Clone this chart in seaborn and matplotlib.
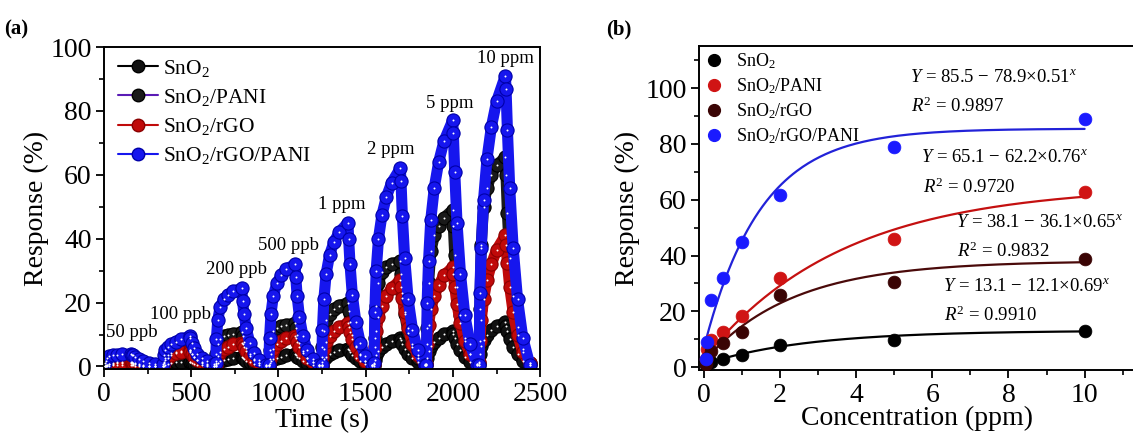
import numpy as np
import pandas as pd
import matplotlib
matplotlib.use("Agg")
import matplotlib.pyplot as plt
import seaborn as sns
from matplotlib.lines import Line2D
from matplotlib.ticker import MultipleLocator

sns.set_theme(style="ticks")
plt.rcParams['font.family'] = ['Liberation Serif', 'DejaVu Serif']
plt.rcParams['mathtext.fontset'] = 'custom'
plt.rcParams['mathtext.rm'] = 'Liberation Serif'
plt.rcParams['mathtext.it'] = 'Liberation Serif:italic'
plt.rcParams['mathtext.bf'] = 'Liberation Serif:bold'
plt.rcParams['axes.edgecolor'] = 'black'
plt.rcParams['xtick.color'] = 'black'
plt.rcParams['ytick.color'] = 'black'
plt.rcParams['text.color'] = 'black'
plt.rcParams['axes.labelcolor'] = 'black'

# ---------------- panel (a): dynamic response ----------------
series_names = ["SnO$_2$", "SnO$_2$/PANI", "SnO$_2$/rGO", "SnO$_2$/rGO/PANI"]
pulse_labels = ["50 ppb", "100 ppb", "200 ppb", "500 ppb", "1 ppm", "2 ppm", "5 ppm", "10 ppm"]
pulse_start_s = [5, 340, 640, 945, 1248, 1548, 1848, 2150]
phase_s = [0, 4, 12, 25, 45, 70, 100, 150, 154, 162, 175, 195, 220, 250, 290]

resp_sno2 = [
    [0.0, 0.1, 0.2, 0.3, 0.4, 0.5, 0.5, 0.5, 0.5, 0.4, 0.3, 0.2, 0.1, 0.1, 0.0],
    [0.1, 0.3, 0.6, 0.9, 1.1, 1.3, 1.4, 1.5, 1.4, 1.2, 0.9, 0.6, 0.4, 0.2, 0.1],
    [0.2, 0.7, 1.2, 1.6, 2.0, 2.3, 2.6, 2.9, 2.7, 2.3, 1.8, 1.3, 0.8, 0.4, 0.2],
    [0.2, 1.0, 1.7, 2.2, 2.7, 3.1, 3.5, 3.9, 3.6, 3.1, 2.5, 1.8, 1.1, 0.6, 0.2],
    [0.3, 1.3, 2.3, 3.1, 3.8, 4.5, 5.1, 5.6, 5.2, 4.5, 3.6, 2.6, 1.6, 0.8, 0.3],
    [0.3, 2.0, 3.6, 4.9, 6.1, 7.1, 8.0, 8.8, 8.2, 7.1, 5.6, 4.0, 2.5, 1.3, 0.4],
    [0.4, 2.8, 4.8, 6.3, 7.7, 9.0, 10.1, 11.0, 10.2, 8.8, 7.0, 5.0, 3.0, 1.5, 0.4],
    [0.5, 4.0, 6.5, 8.3, 10.0, 11.4, 12.6, 13.8, 12.8, 11.0, 8.7, 6.2, 3.8, 1.8, 0.5],
]
resp_sno2_pani = [
    [0.2, 0.4, 0.6, 0.8, 0.9, 1.0, 1.0, 1.1, 1.0, 0.9, 0.7, 0.5, 0.3, 0.2, 0.1],
    [0.3, 1.5, 2.8, 3.6, 4.2, 4.6, 4.9, 5.2, 4.8, 4.0, 3.0, 2.0, 1.2, 0.6, 0.2],
    [0.5, 4.0, 7.0, 8.6, 9.4, 9.9, 10.3, 10.7, 9.5, 7.8, 5.8, 3.8, 2.2, 1.0, 0.3],
    [0.5, 5.0, 9.0, 11.0, 12.0, 12.6, 13.1, 13.6, 12.0, 9.8, 7.2, 4.8, 2.8, 1.3, 0.4],
    [0.5, 6.0, 11.0, 14.5, 16.5, 18.0, 19.0, 20.0, 17.5, 14.0, 10.0, 6.5, 3.8, 1.8, 0.5],
    [0.8, 9.0, 19.0, 26.0, 29.5, 31.0, 32.0, 33.0, 29.0, 23.0, 16.5, 10.5, 6.0, 2.8, 0.6],
    [0.8, 12.0, 26.0, 36.0, 41.0, 44.0, 46.5, 49.0, 44.0, 35.0, 25.0, 16.0, 9.0, 4.0, 0.8],
    [1.0, 18.0, 38.0, 50.0, 56.0, 60.0, 63.0, 65.5, 60.0, 48.0, 34.0, 22.0, 12.5, 5.5, 1.0],
]
resp_sno2_rgo = [
    [0.0, 0.2, 0.5, 0.8, 1.1, 1.3, 1.4, 1.5, 1.4, 1.2, 1.0, 0.7, 0.4, 0.2, 0.1],
    [0.2, 1.0, 2.0, 2.8, 3.5, 4.1, 4.6, 5.0, 4.6, 3.9, 3.0, 2.1, 1.3, 0.7, 0.3],
    [0.3, 1.8, 3.2, 4.4, 5.4, 6.2, 6.9, 7.5, 6.9, 6.0, 4.7, 3.3, 2.0, 1.0, 0.4],
    [0.4, 2.2, 4.0, 5.6, 6.9, 7.9, 8.8, 9.5, 8.8, 7.6, 6.0, 4.2, 2.6, 1.3, 0.4],
    [0.5, 3.0, 5.5, 7.7, 9.5, 11.0, 12.3, 13.5, 12.5, 10.8, 8.5, 6.0, 3.6, 1.8, 0.5],
    [0.8, 6.0, 11.0, 15.5, 19.0, 22.0, 24.5, 27.0, 25.0, 21.5, 17.0, 12.0, 7.0, 3.5, 0.8],
    [0.8, 7.0, 13.0, 18.0, 22.0, 25.5, 28.5, 31.0, 29.0, 25.0, 19.5, 13.5, 8.0, 4.0, 0.8],
    [1.5, 8.0, 14.5, 21.0, 27.0, 32.0, 36.5, 41.0, 38.0, 32.5, 25.0, 17.0, 10.0, 4.5, 1.0],
]
resp_sno2_rgo_pani = [
    [1.0, 1.8, 2.6, 3.2, 3.5, 3.7, 3.8, 3.8, 3.7, 3.5, 3.0, 2.3, 1.7, 1.2, 0.8],
    [0.8, 3.5, 5.0, 6.0, 7.0, 7.8, 8.5, 9.5, 8.8, 7.5, 5.8, 4.0, 2.6, 1.6, 0.9],
    [1.0, 8.5, 14.5, 18.5, 21.0, 22.5, 23.5, 24.5, 20.5, 16.5, 12.0, 7.5, 4.2, 2.0, 0.6],
    [0.6, 9.0, 16.5, 22.0, 26.0, 28.5, 30.5, 32.0, 28.0, 22.0, 15.5, 9.5, 5.0, 2.2, 0.5],
    [0.6, 11.5, 21.0, 29.0, 35.0, 39.0, 42.0, 45.0, 40.0, 32.0, 22.5, 14.0, 7.5, 3.2, 0.6],
    [1.0, 17.0, 30.0, 40.0, 47.5, 53.0, 57.5, 62.0, 58.0, 47.0, 34.0, 21.0, 11.5, 5.0, 0.6],
    [0.6, 20.0, 33.0, 46.0, 56.0, 64.0, 70.5, 77.0, 73.0, 61.0, 45.0, 29.0, 16.0, 7.0, 0.6],
    [0.6, 23.0, 37.0, 52.0, 65.0, 75.0, 83.0, 91.0, 87.0, 74.0, 56.0, 37.0, 21.0, 9.0, 0.6],
]
label_t = [158, 440, 761, 1057, 1365, 1645, 1984, 2300]
label_r = [10.6, 16.3, 30.2, 38.0, 50.8, 68.0, 82.3, 96.4]

# ---------------- panel (b): response vs concentration ----------------
conc_ppm = [0.05, 0.1, 0.2, 0.5, 1, 2, 5, 10]
b_sno2 = [0.6, 1.2, 1.8, 3.0, 4.3, 8.0, 9.8, 13.1]
b_sno2_pani = [3.0, 6.5, 9.8, 12.5, 18.3, 31.8, 45.8, 62.8]
b_sno2_rgo = [1.2, 3.2, 5.8, 8.6, 12.6, 25.7, 30.6, 38.8]
b_sno2_rgo_pani = [3.0, 8.9, 24.2, 32.0, 45.0, 61.6, 79.0, 89.0]
fit_a = [13.1, 65.1, 38.1, 85.5]
fit_b = [12.1, 62.2, 36.1, 78.9]
fit_c = [0.69, 0.76, 0.65, 0.51]
fit_r2 = ["0.9910", "0.9720", "0.9832", "0.9897"]
b_names = ["SnO$_2$", "SnO$_2$/PANI", "SnO$_2$/rGO", "SnO$_2$/rGO/PANI"]

# ---------------- figure ----------------
fig = plt.figure(figsize=(11.33, 4.46), dpi=100)
axA = fig.add_axes([0.0918, 0.1726, 0.385, 0.722])
axB = fig.add_axes([0.617, 0.170, 0.384, 0.726])


def long_frame(values):
    t = [s + p for s in pulse_start_s for p in phase_s]
    r = [v for row in values for v in row]
    return pd.DataFrame({"t": t, "r": r})


a_styles = [
    (resp_sno2, "#111111", "#000000", "#000000"),
    (resp_sno2_pani, "#1a1a1a", "#000000", "#5a1bb5"),
    (resp_sno2_rgo, "#c00a0a", "#8a0000", "#c00a0a"),
    (resp_sno2_rgo_pani, "#1616ee", "#0000a8", "#1616ee"),
]
for vals, mc, ec, lc in a_styles:
    df = long_frame(vals)
    sns.lineplot(data=df, x="t", y="r", ax=axA, color=mc, lw=8,
                 marker="o", markersize=9.5, markeredgecolor=ec,
                 markeredgewidth=0.8, sort=False, estimator=None,
                 solid_joinstyle="round", solid_capstyle="round",
                 legend=False)
    sns.scatterplot(data=df, x="t", y="r", ax=axA, color="white", s=2,
                    linewidth=0, legend=False, zorder=5)

for lab, t, r in zip(pulse_labels, label_t, label_r):
    axA.text(t, r, lab, ha="center", va="center", fontsize=13.5)

handles = [Line2D([], [], color=lc, lw=1.5, marker="o", ms=9, mfc=mc, mec=ec)
           for _, mc, ec, lc in a_styles]
axA.legend(handles, series_names, loc="upper left", bbox_to_anchor=(0.022, 0.98),
           frameon=False, fontsize=15.5, handlelength=1.85, handletextpad=0.25,
           labelspacing=0.38, borderaxespad=0.0, borderpad=0.2)

axA.set_xlim(0, 2500)
axA.set_ylim(-0.8, 100)
axA.xaxis.set_major_locator(MultipleLocator(500))
axA.xaxis.set_minor_locator(MultipleLocator(250))
axA.yaxis.set_major_locator(MultipleLocator(20))
axA.yaxis.set_minor_locator(MultipleLocator(10))
axA.set_xlabel("Time (s)", fontsize=20, labelpad=1)
axA.set_ylabel("Response (%)", fontsize=20, labelpad=1)

# panel (b)
b_colors = ["#000000", "#d01414", "#3a0404", "#1a1aff"]
b_line_colors = ["#000000", "#c41010", "#4a0a0a", "#2222d8"]
b_values = [b_sno2, b_sno2_pani, b_sno2_rgo, b_sno2_rgo_pani]
xfit = np.linspace(0.05, 10, 200)
for a, b, c, lc in zip(fit_a, fit_b, fit_c, b_line_colors):
    sns.lineplot(x=xfit, y=a - b * c ** xfit, ax=axB, color=lc, lw=1.6,
                 sort=False, estimator=None, legend=False)
for vals, col in zip(b_values, b_colors):
    sns.scatterplot(x=conc_ppm, y=vals, ax=axB, color=col, s=85,
                    edgecolor=col, linewidth=0.5, legend=False, zorder=4)

bh = [Line2D([], [], ls="none", marker="o", ms=8.5, mfc=c, mec=c) for c in b_colors]
axB.legend(bh, b_names, loc="upper left", bbox_to_anchor=(0.005, 0.995),
           frameon=False, fontsize=13, handlelength=1.0, handletextpad=0.7,
           labelspacing=0.28, borderaxespad=0.0, borderpad=0.2)

ann_x = [6.28, 5.71, 6.62, 5.41]
ann_y_eq = [29.0, 75.2, 52.0, 104.0]
ann_y_r2 = [18.5, 64.4, 41.6, 93.5]
for a, b, c, r2, x, ye, yr in zip(fit_a, fit_b, fit_c, fit_r2, ann_x, ann_y_eq, ann_y_r2):
    axB.text(x, ye, f"$Y$ = {a} − {b}×{c}$^x$", fontsize=13.5, va="center", ha="left")
    axB.text(x + 0.04, yr, f"$R^2$ = {r2}", fontsize=13.5, va="center", ha="left")

axB.set_xlim(-0.12, 11.3)
axB.set_ylim(-1.1, 115)
axB.xaxis.set_major_locator(MultipleLocator(2))
axB.xaxis.set_minor_locator(MultipleLocator(1))
axB.yaxis.set_major_locator(MultipleLocator(20))
axB.yaxis.set_minor_locator(MultipleLocator(10))
axB.set_yticks([0, 20, 40, 60, 80, 100])
axB.set_xlabel("Concentration (ppm)", fontsize=20, labelpad=-1)
axB.set_ylabel("Response (%)", fontsize=20, labelpad=4)
axB.spines["right"].set_visible(False)

for ax in (axA, axB):
    ax.tick_params(which="major", direction="out", length=6, width=1.3, labelsize=20, pad=3)
    ax.tick_params(which="minor", direction="out", length=3.5, width=1.2)
    ax.tick_params(top=False, right=False, which="both")
    for s in ax.spines.values():
        s.set_linewidth(1.4)
        s.set_color("black")

fig.text(0.004, 0.935, "(a)", fontsize=15, fontweight="bold", va="center")
fig.text(0.535, 0.935, "(b)", fontsize=15, fontweight="bold", va="center")

fig.savefig("out.png", dpi=100)
